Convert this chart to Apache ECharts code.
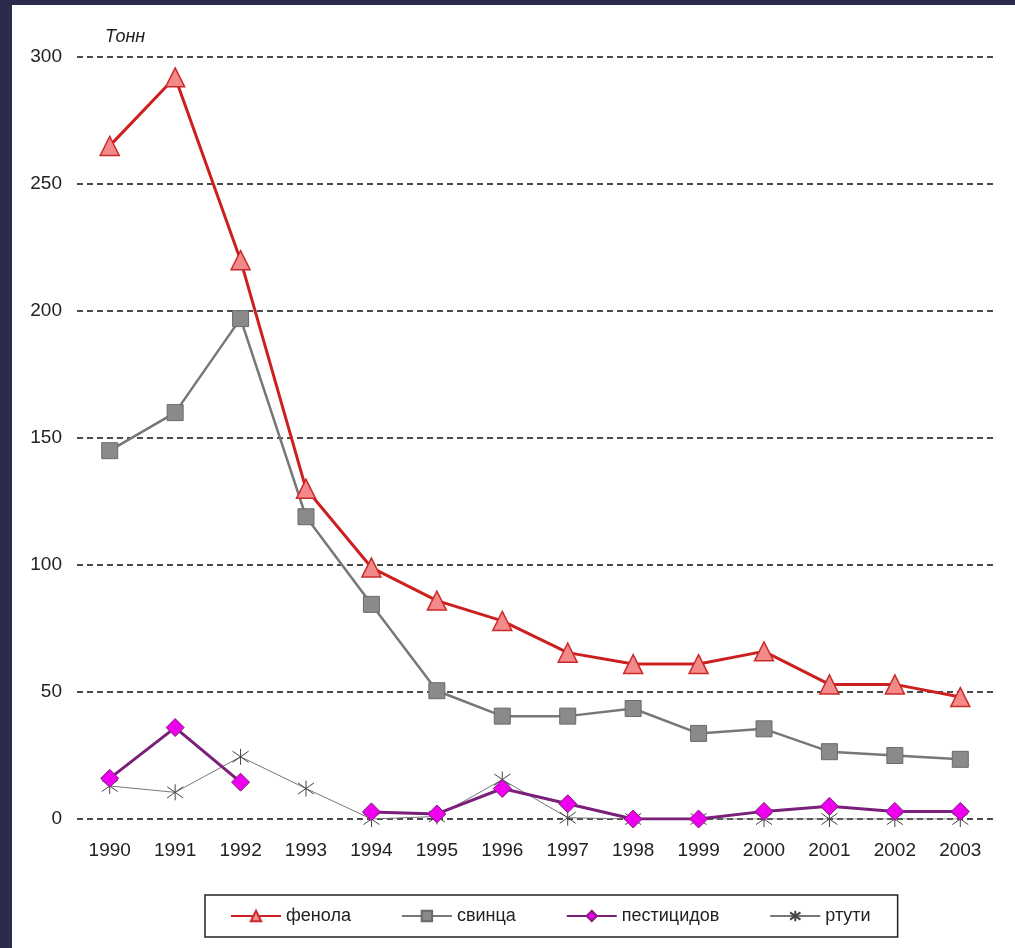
<!DOCTYPE html>
<html><head><meta charset="utf-8">
<script src="https://cdn.jsdelivr.net/npm/echarts@6/dist/echarts.min.js"></script>
<style>
html,body{margin:0;padding:0;background:#2c2b4c;width:1015px;height:948px;overflow:hidden}
#chart{position:absolute;left:12px;top:5px;width:1003px;height:943px;background:#fff}
</style></head><body>
<div id="chart"></div>
<script>
const years = ['1990','1991','1992','1993','1994','1995','1996','1997','1998','1999','2000','2001','2002','2003'];
const phenol = [265, 292, 220, 130, 99, 86, 78, 65.5, 61, 61, 66, 53, 53, 48];
const lead = [145, 160, 197, 119, 84.5, 50.5, 40.5, 40.5, 43.5, 33.7, 35.5, 26.5, 25, 23.5];
const pesticides = [16, 36, 14.5, null, 2.8, 2, 12, 6, 0, 0, 3, 5, 3, 3];
const mercury = [13, 10.5, 24.5, 12, 0, 1, 15.5, 0.5, 0, 0, 0, 0, 0, 0];
const yTicks = [0, 50, 100, 150, 200, 250, 300];
const names = ['фенола', 'свинца', 'пестицидов', 'ртути'];

const chart = echarts.init(document.getElementById('chart'));
const font = '"Liberation Sans", Arial, sans-serif';
const starPath = 'path://M5,0 L5,10 M1.5,1.5 L8.5,8.5 M8.5,1.5 L1.5,8.5';
chart.setOption({
  animation: false,
  backgroundColor: '#fff',
  textStyle: {fontFamily: font},
  graphic: [{type: 'text', left: 93, top: 23, style: {text: 'Тонн', font: 'italic 18px "Liberation Sans", Arial, sans-serif', fill: '#222'}}],
  grid: {left: 65, right: 22, top: 52, bottom: 129, containLabel: false},
  legend: {
    left: 193, top: 890,
    data: names,
    borderColor: '#222', borderWidth: 1.5, padding: [12, 27, 12, 25],
    itemGap: 50, itemWidth: 50, itemHeight: 13,
    textStyle: {fontSize: 18, color: '#222', fontFamily: font}
  },
  xAxis: {
    type: 'category', data: years, boundaryGap: true,
    axisLine: {show: false}, axisTick: {show: false},
    axisLabel: {fontSize: 19, color: '#222', margin: 22}
  },
  yAxis: {
    type: 'value', min: yTicks[0], max: yTicks[yTicks.length-1], interval: 50,
    axisLine: {show: false}, axisTick: {show: false},
    axisLabel: {fontSize: 19, color: '#222', margin: 15},
    splitLine: {lineStyle: {color: '#111', type: [6, 4], width: 1.5}}
  },
  series: [
    {name: names[0], type: 'line', data: phenol, symbol: 'triangle', symbolSize: 19,
     lineStyle: {color: '#cc2020', width: 3}, itemStyle: {color: '#f28a8a', borderColor: '#cc2a2a', borderWidth: 1.5}, z: 4},
    {name: names[1], type: 'line', data: lead, symbol: 'rect', symbolSize: 16,
     lineStyle: {color: '#777', width: 2.5}, itemStyle: {color: '#8a8a8a', borderColor: '#6a6a6a', borderWidth: 1}, z: 3},
    {name: names[2], type: 'line', data: pesticides, symbol: 'diamond', symbolSize: 18, connectNulls: false,
     lineStyle: {color: '#7a1f7a', width: 3}, itemStyle: {color: '#ee00ee', borderColor: '#80207a', borderWidth: 1}, z: 5},
    {name: names[3], type: 'line', data: mercury, symbol: starPath, symbolSize: 16,
     lineStyle: {color: '#777', width: 1}, itemStyle: {color: 'rgba(0,0,0,0)', borderColor: '#444', borderWidth: 1}, z: 2}
  ]
});
</script></body></html>
